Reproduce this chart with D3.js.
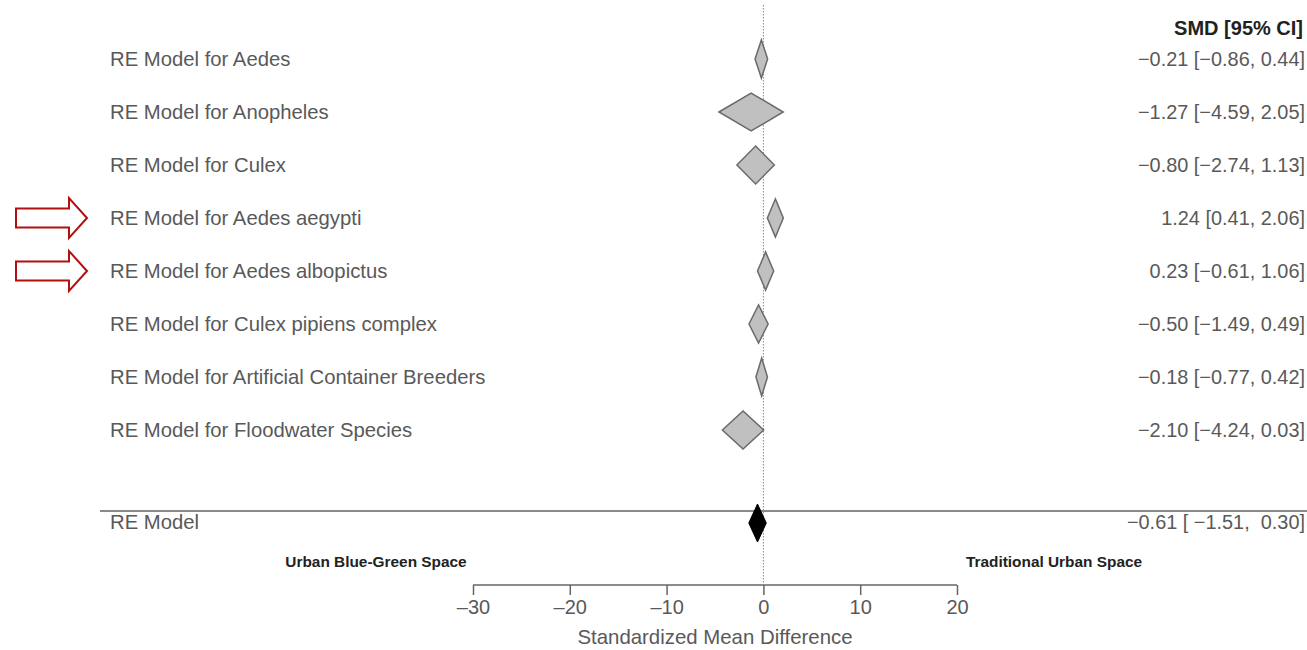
<!DOCTYPE html>
<html>
<head>
<meta charset="utf-8">
<script src="https://cdn.jsdelivr.net/npm/d3@7"></script>
<style>
  html, body { margin: 0; padding: 0; background: #fff; }
  svg text { font-family: "Liberation Sans", Arial, Helvetica, sans-serif; }
</style>
</head>
<body>
<svg id="chart" width="1307" height="650"></svg>
<script>
// Subgroup random-effects summaries (standardized mean difference, 95% CI)
const groups = [
  "RE Model for Aedes",
  "RE Model for Anopheles",
  "RE Model for Culex",
  "RE Model for Aedes aegypti",
  "RE Model for Aedes albopictus",
  "RE Model for Culex pipiens complex",
  "RE Model for Artificial Container Breeders",
  "RE Model for Floodwater Species"
];
const estimates = [-0.21, -1.27, -0.80, 1.24, 0.23, -0.50, -0.18, -2.10];
const lowerCI   = [-0.86, -4.59, -2.74, 0.41, -0.61, -1.49, -0.77, -4.24];
const upperCI   = [0.44, 2.05, 1.13, 2.06, 1.06, 0.49, 0.42, 0.03];

// Overall model
const overallLabel = "RE Model";
const overallEst = -0.61, overallLo = -1.51, overallHi = 0.30;

// Highlighted rows (marked with arrows)
const highlighted = ["RE Model for Aedes aegypti", "RE Model for Aedes albopictus"];

const axisTicks = [-30, -20, -10, 0, 10, 20];
const xDomain = [-30, 20];

const svg = d3.select("#chart");

const x = d3.scaleLinear().domain(xDomain).range([473, 957]);
const y = d3.scalePoint().domain(groups).range([59, 430]);
const yOverall = 523;
const diamondH = 38;

const textColor = "#595959";
const minus = s => s.replace(/-/g, "\u2013");
const f2 = v => minus(d3.format(".2f")(v));

// zero reference line
svg.append("line")
  .attr("x1", x(0)).attr("x2", x(0))
  .attr("y1", 5).attr("y2", 584)
  .attr("stroke", "#888").attr("stroke-width", 1)
  .attr("stroke-dasharray", "1.5,1.5");

// separator above overall model
svg.append("line")
  .attr("x1", 100).attr("x2", 1307)
  .attr("y1", 511).attr("y2", 511)
  .attr("stroke", "#8a8a8a").attr("stroke-width", 2);

const diamond = (est, lo, hi, cy) =>
  `M${x(lo)},${cy} L${x(est)},${cy - diamondH / 2} L${x(hi)},${cy} L${x(est)},${cy + diamondH / 2} Z`;

// subgroup diamonds
svg.append("g").selectAll("path")
  .data(groups)
  .join("path")
  .attr("d", (g, i) => diamond(estimates[i], lowerCI[i], upperCI[i], y(g)))
  .attr("fill", "#c0c0c0")
  .attr("stroke", "#6a6a6a")
  .attr("stroke-width", 1.5);

// overall diamond
svg.append("path")
  .attr("d", diamond(overallEst, overallLo, overallHi, yOverall))
  .attr("fill", "#000").attr("stroke", "#000");

// left labels
svg.append("g").selectAll("text")
  .data(groups)
  .join("text")
  .attr("x", 110).attr("y", g => y(g))
  .attr("dy", "0.35em")
  .attr("font-size", 20.3)
  .attr("fill", textColor)
  .text(g => g);

svg.append("text")
  .attr("x", 110).attr("y", yOverall - 1).attr("dy", "0.35em")
  .attr("font-size", 20.3).attr("fill", textColor)
  .text(overallLabel);

// right column: estimates with CI
svg.append("text")
  .attr("x", 1303).attr("y", 28).attr("dy", "0.35em")
  .attr("text-anchor", "end")
  .attr("font-size", 20).attr("font-weight", "bold").attr("fill", "#222")
  .text("SMD [95% CI]");

svg.append("g").selectAll("text")
  .data(groups)
  .join("text")
  .attr("x", 1305).attr("y", g => y(g))
  .attr("dy", "0.35em")
  .attr("text-anchor", "end")
  .attr("font-size", 19.9).attr("fill", textColor)
  .text((g, i) => `${f2(estimates[i])} [${f2(lowerCI[i])}, ${f2(upperCI[i])}]`);

svg.append("text")
  .attr("x", 1305).attr("y", yOverall - 1).attr("dy", "0.35em")
  .attr("text-anchor", "end")
  .attr("font-size", 19.9).attr("fill", textColor)
  .style("white-space", "pre")
  .text(`${f2(overallEst)} [ ${f2(overallLo)},  ${f2(overallHi)}]`);

// direction labels
svg.append("text")
  .attr("x", 376).attr("y", 562).attr("dy", "0.35em")
  .attr("text-anchor", "middle")
  .attr("font-size", 15.4).attr("font-weight", "bold").attr("fill", "#222")
  .text("Urban Blue-Green Space");

svg.append("text")
  .attr("x", 1054).attr("y", 562).attr("dy", "0.35em")
  .attr("text-anchor", "middle")
  .attr("font-size", 15.4).attr("font-weight", "bold").attr("fill", "#222")
  .text("Traditional Urban Space");

// x axis
const axis = d3.axisBottom(x)
  .tickValues(axisTicks)
  .tickSizeInner(10).tickSizeOuter(0)
  .tickPadding(5)
  .tickFormat(d => minus(String(d)));

const ax = svg.append("g")
  .attr("transform", "translate(0,585)")
  .call(axis);
ax.select(".domain").attr("stroke", "#666").attr("stroke-width", 1.5)
  .attr("d", `M${x(xDomain[0])},0H${x(xDomain[1])}`);
ax.selectAll(".tick line").attr("stroke", "#666").attr("stroke-width", 1.5)
  .attr("y1", 0).attr("y2", 10);
ax.selectAll(".tick text")
  .attr("font-size", 20).attr("fill", textColor)
  .attr("font-family", "Liberation Sans, Arial, sans-serif");

svg.append("text")
  .attr("x", x(-5)).attr("y", 637).attr("dy", "0.35em")
  .attr("text-anchor", "middle")
  .attr("font-size", 20.4).attr("fill", textColor)
  .text("Standardized Mean Difference");

// outline arrows pointing at highlighted rows
const arrowPath = (cy) => {
  const x0 = 16, x1 = 69, x2 = 87, sh = 9.5, hh = 20;
  return `M${x0},${cy - sh} H${x1} V${cy - hh} L${x2},${cy} L${x1},${cy + hh} V${cy + sh} H${x0} Z`;
};
svg.append("g").selectAll("path")
  .data(highlighted)
  .join("path")
  .attr("d", g => arrowPath(y(g)))
  .attr("fill", "#fff")
  .attr("stroke", "#b01010")
  .attr("stroke-width", 2);
</script>
</body>
</html>
